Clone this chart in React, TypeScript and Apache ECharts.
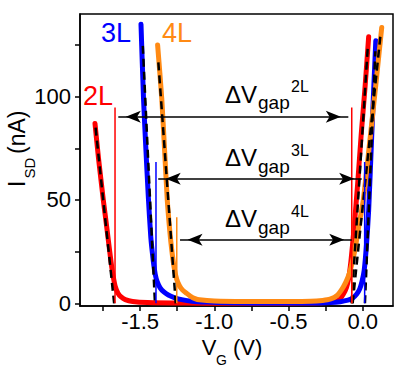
import React, { useEffect, useRef } from "react";
import * as echarts from "echarts";

// ---------- data ----------
// 2L (red)
const v2L = [-1.804, -1.78, -1.748, -1.725, -1.708, -1.692, -1.68, -1.667, -1.65, -1.63, -1.6, -1.55, -1.45, -1.2, -0.9, -0.6, -0.4, -0.28, -0.2, -0.16, -0.13, -0.11, -0.095, -0.08, -0.06, -0.035, -0.01, 0.015, 0.04];
const i2L = [87, 70, 50, 37, 27, 18, 12.5, 8, 5, 3.2, 1.8, 0.9, 0.4, 0.15, 0.05, 0.05, 0.1, 0.3, 0.7, 1.6, 4.5, 7.5, 12, 20, 35, 57, 82, 104, 129];
// 3L (blue)
const v3L = [-1.494, -1.477, -1.462, -1.445, -1.428, -1.412, -1.398, -1.385, -1.365, -1.34, -1.31, -1.27, -1.22, -1.15, -1.05, -0.9, -0.6, -0.35, -0.22, -0.15, -0.1, -0.07, -0.04, -0.02, -0.005, 0.01, 0.025, 0.04, 0.06, 0.088];
const i3L = [135, 99, 76, 52, 32, 21, 14, 10.5, 7.5, 5.5, 4, 2.8, 1.8, 1.0, 0.6, 0.3, 0.15, 0.15, 0.4, 0.8, 1.5, 2.4, 4.5, 7, 10.5, 16, 28, 45, 80, 127];
// 4L (orange)
const v4L = [-1.382, -1.354, -1.335, -1.317, -1.3, -1.287, -1.27, -1.253, -1.235, -1.215, -1.186, -1.16, -1.13, -1.1, -1.0, -0.8, -0.5, -0.35, -0.27, -0.22, -0.17, -0.13, -0.1, -0.08, -0.052, -0.025, 0.004, 0.05, 0.09, 0.128];
const i4L = [125, 99, 74, 50, 35, 26, 17, 11.5, 8.5, 6.5, 4.8, 3.4, 2.3, 1.7, 1.1, 0.9, 0.9, 1.0, 1.4, 2.0, 4.0, 8, 12.5, 17, 26, 38, 50, 80, 107, 133.5];

// linear fits [[V, I], [V, I]]
const fitLeft2L = [[-1.8, 85], [-1.675, 0]];
const fitRight2L = [[-0.075, 0], [0.035, 125]];
const fitLeft3L = [[-1.482, 124.6], [-1.4, 0]];
const fitRight3L = [[0.015, 0], [0.085, 122]];
const fitLeft4L = [[-1.377, 116.6], [-1.26, 0]];
const fitRight4L = [[-0.068, 0], [0.12, 130]];

// gap edges (V) and marker heights (nA)
const gapEdges2L = [-1.669, -0.074];
const gapEdges3L = [-1.393, 0.013];
const gapEdges4L = [-1.253, -0.074];
const markerTops = [94.7, 68.4, 41.7];

// arrows
const arrowLevels = [90.3, 60.3, 30.7];
const arrowStarts = [-1.647, -1.378, -1.231];
const arrowEnds = [-0.097, -0.007, -0.074];

// ticks
const xMajorTicks = [-1.5, -1.0, -0.5, 0.0];
const xMinorTicks = [-1.75, -1.25, -0.75, -0.25];
const yMajorTicks = [0, 50, 100];
const yMinorTicks = [25, 75, 125];

const layers = ["2L", "3L", "4L"];
const colors = ["#ff0000", "#0000ff", "#ff8a14"];

// ---------- build ----------
const FONT = "'Liberation Sans', Arial, Helvetica, sans-serif";
const zip = (xs: number[], ys: number[]) => xs.map((x, k) => [x, ys[k]]);

const curves = [zip(v2L, i2L), zip(v3L, i3L), zip(v4L, i4L)];
const fits = [fitLeft2L, fitRight2L, fitLeft3L, fitRight3L, fitLeft4L, fitRight4L];
const edges = [gapEdges2L, gapEdges3L, gapEdges4L];

const series: any[] = [];
curves.forEach((d, k) => {
  series.push({
    type: "line",
    name: layers[k],
    data: d,
    symbol: "none",
    smooth: 0.2,
    lineStyle: { color: colors[k], width: 5, cap: "round", join: "round" },
    z: 2,
    silent: true,
  });
});
fits.forEach((d) => {
  series.push({
    type: "line",
    data: d,
    symbol: "none",
    lineStyle: { color: "#000", width: 2.5, type: [8, 5] },
    z: 3,
    silent: true,
  });
});
// vertical markers, drawn 4L first so 2L is on top
[2, 1, 0].forEach((k) => {
  edges[k].forEach((v) => {
    series.push({
      type: "line",
      data: [[v, 0], [v, markerTops[k]]],
      symbol: "none",
      lineStyle: { color: colors[k], width: 1.5 },
      z: 4,
      silent: true,
    });
  });
});
series.push({
  type: "line",
  data: [],
  silent: true,
  z: 5,
  markLine: {
    silent: true,
    symbol: ["arrow", "arrow"],
    symbolSize: [9, 15],
    symbolOffset: [[0, 7.5], [0, 7.5]],
    label: { show: false },
    lineStyle: { color: "#000", width: 1.5, type: "solid" },
    emphasis: { disabled: true },
    data: arrowLevels.map((lv, k) => [
      { coord: [arrowStarts[k], lv] },
      { coord: [arrowEnds[k], lv] },
    ]),
  },
});

const txt = (text: string, x: number, baseline: number, size: number, fill = "#000") => ({
  type: "text",
  x,
  y: baseline - 0.3465 * size,
  silent: true,
  style: {
    text,
    fill,
    fontSize: size,
    fontFamily: FONT,
    align: "left",
    verticalAlign: "middle",
  },
});

const gapLabelBaselines = [102.5, 166, 227];
const graphics: any[] = [];
gapLabelBaselines.forEach((b, k) => {
  graphics.push(txt("ΔV", 225, b, 24));
  graphics.push(txt("gap", 258, b + 7, 19));
  graphics.push(txt(layers[k], 291, b - 10, 16));
});
graphics.push(txt(layers[0], 83, 105, 27, colors[0]));
graphics.push(txt(layers[1], 101, 42, 27, colors[1]));
graphics.push(txt(layers[2], 162, 42, 27, colors[2]));
// x-axis title
graphics.push(txt("V", 201.7, 355, 22));
graphics.push(txt("G", 216, 365, 14));
graphics.push(txt("(V)", 233, 355, 22));
// y-axis title (rotated)
graphics.push({
  type: "group",
  x: 25,
  y: 187,
  rotation: Math.PI / 2,
  silent: true,
  children: [txt("I", 0, 0, 23), txt("SD", 8.5, 10, 15), txt("(nA)", 33, 0, 23)],
});

const option: any = {
  animation: false,
  backgroundColor: "#fff",
  grid: {
    left: 80,
    top: 14,
    right: 24,
    bottom: 65,
    show: true,
    borderColor: "#000",
    borderWidth: 1.5,
    containLabel: false,
    outerBoundsMode: "none",
  },
  xAxis: {
    type: "value",
    min: -1.905,
    max: 0.204,
    axisLine: { show: true, onZero: false, lineStyle: { color: "#000", width: 1.5 } },
    axisTick: {
      show: true,
      inside: false,
      length: 5,
      lineStyle: { color: "#000", width: 1.5 },
      customValues: [...xMinorTicks, ...xMajorTicks].sort((a, b) => a - b),
    },
    axisLabel: {
      show: true,
      customValues: xMajorTicks,
      formatter: (v: number) => v.toFixed(1),
      color: "#000",
      fontSize: 22,
      fontFamily: FONT,
      margin: 4,
    },
    splitLine: { show: false },
  },
  yAxis: {
    type: "value",
    min: -1.3,
    max: 140,
    axisLine: { show: true, onZero: false, lineStyle: { color: "#000", width: 1.5 } },
    axisTick: {
      show: true,
      inside: false,
      length: 5,
      lineStyle: { color: "#000", width: 1.5 },
      customValues: [...yMajorTicks, ...yMinorTicks].sort((a, b) => a - b),
    },
    axisLabel: {
      show: true,
      customValues: yMajorTicks,
      formatter: (v: number) => String(v),
      color: "#000",
      fontSize: 22,
      fontFamily: FONT,
      margin: 9,
    },
    splitLine: { show: false },
  },
  graphic: graphics,
  series,
};

export default function App() {
  const ref = useRef<HTMLDivElement>(null);
  useEffect(() => {
    const chart = echarts.init(ref.current!, null, { renderer: "svg" });
    chart.setOption(option);
    return () => chart.dispose();
  }, []);
  return (
    <div
      ref={ref}
      style={{ position: "fixed", left: 0, top: 0, width: 417, height: 371, background: "#fff" }}
    />
  );
}
